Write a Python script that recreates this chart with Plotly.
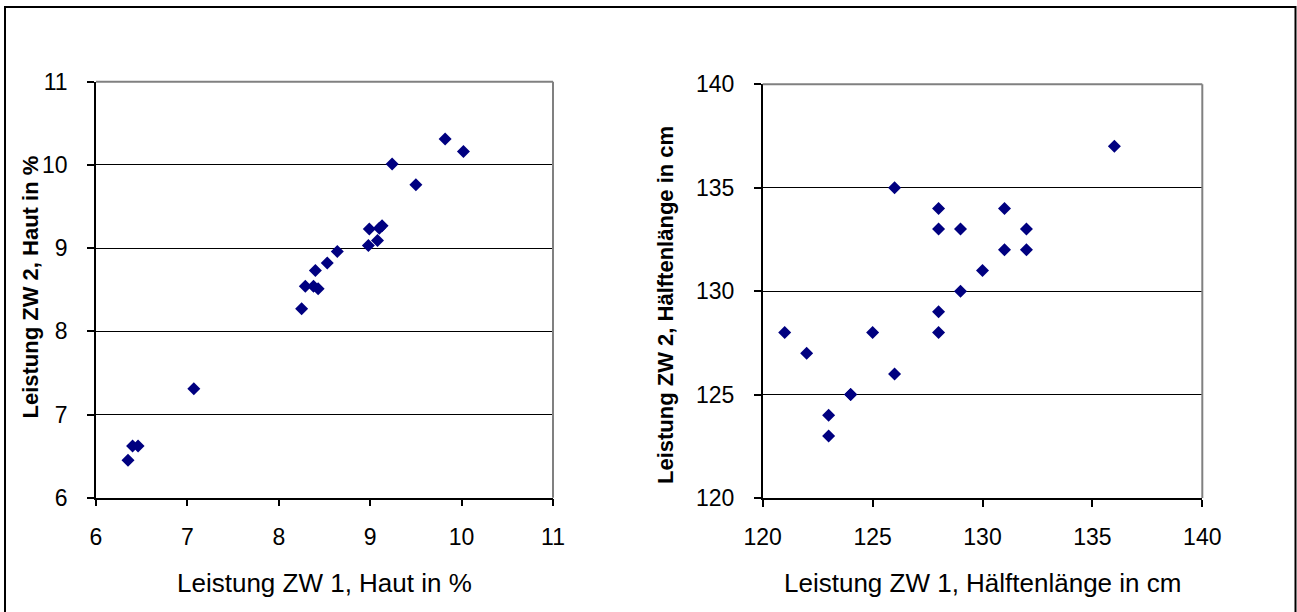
import plotly.graph_objects as go

# Left chart: Haut in %
haut_zw1 = [6.35, 6.40, 6.46, 7.07, 8.25, 8.29, 8.38, 8.43, 8.40, 8.53, 8.64,
            8.99, 9.10, 9.13, 8.98, 9.08, 9.24, 9.50, 9.82, 10.02]
haut_zw2 = [6.45, 6.62, 6.62, 7.31, 8.27, 8.54, 8.54, 8.51, 8.73, 8.82, 8.96,
            9.23, 9.24, 9.27, 9.03, 9.09, 10.01, 9.76, 10.31, 10.16]

# Right chart: Hälftenlänge in cm
laenge_zw1 = [121, 122, 123, 123, 124, 124, 125, 126, 126, 128, 128, 128, 128,
              129, 129, 130, 131, 131, 132, 132, 136]
laenge_zw2 = [128, 127, 124, 123, 125, 125, 128, 135, 126, 134, 133, 129, 128,
              133, 130, 131, 134, 132, 133, 132, 137]

left_ticks = [6, 7, 8, 9, 10, 11]
right_ticks = [120, 125, 130, 135, 140]

W, H = 1297, 612
FONT = "Liberation Sans, Arial, sans-serif"
NAVY = "#000080"

fig = go.Figure()
fig.add_trace(go.Scatter(x=haut_zw1, y=haut_zw2, mode="markers",
                         marker=dict(symbol="diamond", size=10, color=NAVY, line=dict(width=0)),
                         xaxis="x", yaxis="y", showlegend=False))
fig.add_trace(go.Scatter(x=laenge_zw1, y=laenge_zw2, mode="markers",
                         marker=dict(symbol="diamond", size=10, color=NAVY, line=dict(width=0)),
                         xaxis="x2", yaxis="y2", showlegend=False))

def px_x(p):
    return p / W

def px_y(p):
    return 1 - p / H

axis_common = dict(showline=True, linecolor="black", linewidth=1.5,
                   ticks="outside", ticklen=7, tickcolor="black", tickwidth=1.5,
                   tickfont=dict(family=FONT, size=23, color="black"),
                   zeroline=False, automargin=False)

fig.update_layout(
    width=W, height=H,
    margin=dict(l=0, r=0, t=0, b=0, autoexpand=False),
    paper_bgcolor="white", plot_bgcolor="white",
    font=dict(family=FONT, color="black"),
    xaxis=dict(domain=[px_x(96), px_x(553)], range=[6, 11], tickvals=left_ticks,
               showgrid=False, anchor="y", ticklabelstandoff=11, **axis_common),
    yaxis=dict(domain=[px_y(497.7), px_y(81.7)], range=[6, 11], tickvals=left_ticks,
               showgrid=True, gridcolor="black", gridwidth=1, anchor="x",
               ticklabelstandoff=15, **axis_common),
    xaxis2=dict(domain=[px_x(762.7), px_x(1202.3)], range=[120, 140], tickvals=right_ticks,
                showgrid=False, anchor="y2", ticklabelstandoff=11, **axis_common),
    yaxis2=dict(domain=[px_y(498), px_y(84.3)], range=[120, 140], tickvals=right_ticks,
                showgrid=True, gridcolor="black", gridwidth=1, anchor="x2",
                ticklabelstandoff=15, **axis_common),
)

# axis titles
titles = [
    ("Leistung ZW 1, Haut in %", 324.5, 583, 0, 26, False),
    ("Leistung ZW 1, Hälftenlänge in cm", 982.5, 583, 0, 26, False),
    ("Leistung ZW 2, Haut in %", 29.5, 287, -90, 22, True),
    ("Leistung ZW 2, Hälftenlänge in cm", 665, 305, -90, 22, True),
]
for text, x, y, ang, size, bold in titles:
    fig.add_annotation(text=f"<b>{text}</b>" if bold else text,
                       xref="paper", yref="paper", x=px_x(x), y=px_y(y),
                       xanchor="center", yanchor="middle", textangle=ang,
                       showarrow=False, font=dict(family=FONT, size=size, color="black"))

# grey top/right borders of plot areas
for xr, yr in (("x domain", "y domain"), ("x2 domain", "y2 domain")):
    fig.add_shape(type="line", xref=xr, yref=yr, x0=0, x1=1, y0=1, y1=1,
                  line=dict(color="#808080", width=2))
    fig.add_shape(type="line", xref=xr, yref=yr, x0=1, x1=1, y0=0, y1=1,
                  line=dict(color="#808080", width=2))

# outer chart border
fig.add_shape(type="rect", xref="paper", yref="paper",
              x0=px_x(5), x1=px_x(1295.5), y0=px_y(640), y1=px_y(7),
              line=dict(color="black", width=2), fillcolor="rgba(0,0,0,0)", layer="below")

fig.write_html("out.html")
